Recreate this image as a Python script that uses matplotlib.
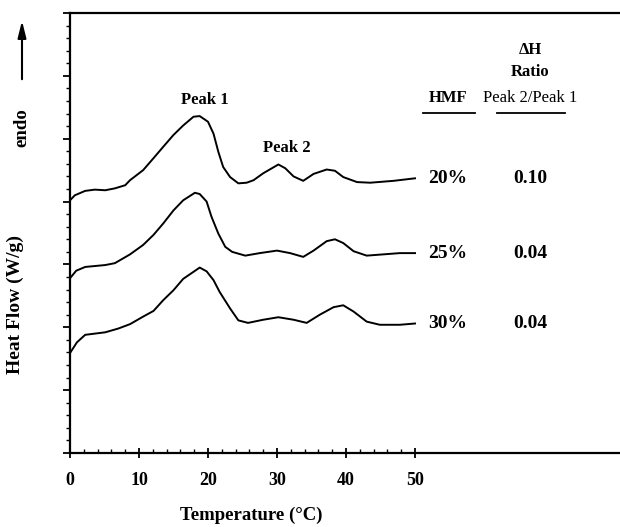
import matplotlib
matplotlib.use("Agg")
import matplotlib.pyplot as plt
from matplotlib.ticker import MultipleLocator, FixedLocator

plt.rcParams['font.family'] = ['Liberation Serif', 'DejaVu Serif']

# DSC thermograms (temperature in C, heat flow in arbitrary offset units)
x20 = [0, 0.7, 2.2, 3.6, 5.1, 6.5, 8.0, 8.7, 10.6, 12.1, 13.5, 15.0, 16.4, 17.9, 18.8, 20.0,
       20.8, 21.5, 22.2, 23.2, 24.4, 25.6, 26.6, 28.0, 30.2, 31.2, 32.4, 33.8, 35.3, 37.2,
       38.4, 39.6, 41.6, 43.5, 46.9, 50.0]
y20 = [4.02, 4.10, 4.17, 4.19, 4.18, 4.21, 4.26, 4.34, 4.50, 4.69, 4.87, 5.06, 5.21, 5.35, 5.36, 5.27,
       5.08, 4.79, 4.55, 4.39, 4.29, 4.30, 4.34, 4.45, 4.59, 4.53, 4.40, 4.33, 4.44, 4.51,
       4.49, 4.39, 4.31, 4.30, 4.33, 4.37]

x25 = [0, 0.9, 2.2, 5.1, 6.5, 8.7, 10.6, 12.1, 13.5, 15.0, 16.4, 18.1, 18.8, 19.8, 20.5, 21.5,
       22.5, 23.5, 25.4, 27.5, 30.0, 31.9, 33.8, 35.3, 37.2, 38.4, 39.6, 41.1, 43.0, 45.4,
       47.8, 50.0]
y25 = [2.78, 2.90, 2.96, 2.99, 3.02, 3.16, 3.31, 3.47, 3.65, 3.86, 4.02, 4.14, 4.12, 4.00, 3.76, 3.49,
       3.28, 3.20, 3.14, 3.18, 3.22, 3.18, 3.12, 3.22, 3.37, 3.40, 3.34, 3.21, 3.14, 3.16,
       3.18, 3.18]

x30 = [0, 1.0, 2.2, 5.1, 7.0, 8.7, 10.6, 12.1, 13.5, 15.0, 16.4, 17.6, 18.8, 19.8, 20.8, 21.7,
       23.2, 24.4, 25.8, 28.0, 30.2, 32.4, 34.3, 36.2, 38.2, 39.6, 41.1, 43.0, 44.9, 47.8, 50.0]
y30 = [1.59, 1.76, 1.88, 1.92, 1.98, 2.05, 2.17, 2.26, 2.43, 2.59, 2.77, 2.86, 2.95, 2.89, 2.75, 2.56,
       2.30, 2.11, 2.07, 2.12, 2.16, 2.12, 2.07, 2.20, 2.32, 2.35, 2.25, 2.09, 2.04, 2.04, 2.06]

hmf = ['20%', '25%', '30%']
ratio = ['0.10', '0.04', '0.04']
xticks = [0, 10, 20, 30, 40, 50]

fig = plt.figure(figsize=(6.2, 5.27), dpi=100)
ax = fig.add_axes([70/620, 74/527, 550/620, 440/527])

curves = [(x20, y20), (x25, y25), (x30, y30)]
for xs, ys in curves:
    ax.plot(xs, ys, color='black', lw=1.4, solid_joinstyle='round')

ax.set_xlim(0, 550/6.9)
ax.set_ylim(0, 7)

ax.spines['right'].set_visible(False)
for s in ['left', 'bottom', 'top']:
    ax.spines[s].set_linewidth(1.6)

ax.xaxis.set_major_locator(FixedLocator(xticks))
ax.xaxis.set_minor_locator(FixedLocator([v for v in range(0, 51, 2) if v % 10]))
ax.yaxis.set_major_locator(MultipleLocator(1))
ax.yaxis.set_minor_locator(MultipleLocator(0.2))
ax.set_yticklabels([])
ax.tick_params(axis='x', which='major', direction='inout', length=7, width=1.3,
               labelsize=13, pad=10)
ax.tick_params(axis='x', which='minor', direction='in', length=3, width=1)
ax.tick_params(axis='y', which='major', direction='out', length=5, width=1.3)
ax.tick_params(axis='y', which='minor', direction='out', length=3, width=1)
for lab in ax.get_xticklabels():
    lab.set_fontweight('bold')

ax.set_xlabel('Temperature (°C)', fontsize=13.5, fontweight='bold')
ax.xaxis.set_label_coords((251-70)/550, -54/440)
ax.set_ylabel('Heat Flow (W/g)', fontsize=14, fontweight='bold')
ax.yaxis.set_label_coords(-46/550, (453-305)/440)

# endo arrow
fig.text(22/620, 1-128/527, 'endo', rotation=90, fontsize=13.5, fontweight='bold',
         ha='center', va='center')
ax.annotate('', xy=(22/620, 1-18/527), xytext=(22/620, 1-82/527),
            xycoords='figure fraction', textcoords='figure fraction',
            arrowprops=dict(arrowstyle='-|>,head_length=1.0,head_width=0.25',
                            color='black', lw=1.5))

ax.text(19.6, 5.61, 'Peak 1', fontsize=12, fontweight='bold', ha='center', va='center')
ax.text(31.4, 4.85, 'Peak 2', fontsize=12, fontweight='bold', ha='center', va='center')

# table at the right
xh = (448-70)/6.9
xr = (530-70)/6.9
ax.text(xh, 5.64, 'HMF', fontsize=12, fontweight='bold', ha='center', va='center')
ax.text(xr, (453-50)/62.9, 'ΔH', fontsize=12, fontweight='bold', ha='center', va='center')
ax.text(xr, (453-72)/62.9, 'Ratio', fontsize=12, fontweight='bold', ha='center', va='center')
ax.text(xr, 5.64, 'Peak 2/Peak 1', fontsize=12, ha='center', va='center')
ax.plot([(423-70)/6.9, (475-70)/6.9], [(453-113)/62.9]*2, color='black', lw=1.3)
ax.plot([(497-70)/6.9, (565-70)/6.9], [(453-113)/62.9]*2, color='black', lw=1.3)

for (xs, ys), h, r in zip(curves, hmf, ratio):
    ax.text(xh, ys[-1], h, fontsize=14, fontweight='bold', ha='center', va='center')
    ax.text(xr, ys[-1], r, fontsize=14, fontweight='bold', ha='center', va='center')

fig.savefig('out.png', dpi=100)
